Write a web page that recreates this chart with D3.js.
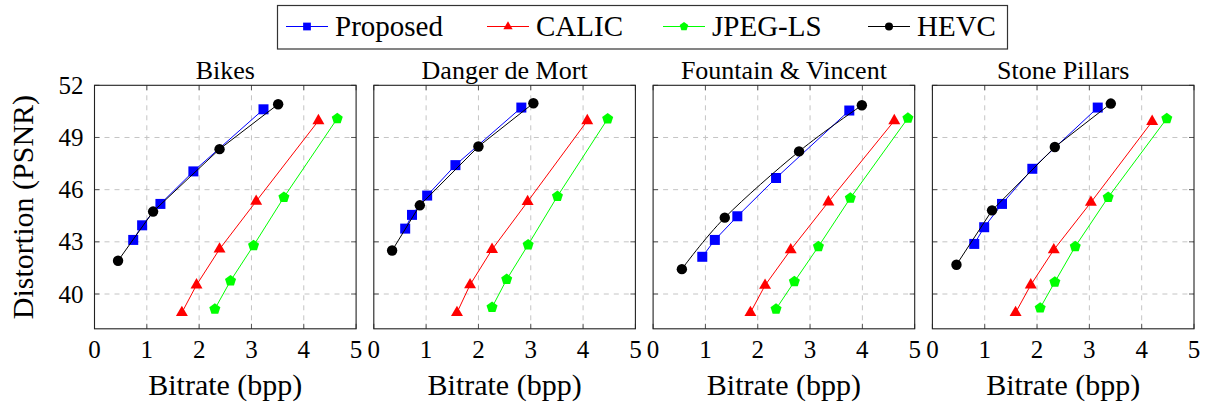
<!DOCTYPE html>
<html>
<head>
<meta charset="utf-8">
<script src="https://cdn.jsdelivr.net/npm/d3@7"></script>
<style>
  body { margin: 0; background: #fff; }
  svg, svg text { font-family: 'Liberation Serif' !important; }
</style>
</head>
<body>
<div id="app"></div>
<script>
// series order: Proposed, CALIC, JPEG-LS, HEVC
const METHODS = ["Proposed", "CALIC", "JPEG-LS", "HEVC"];
const IMAGES = ["Bikes", "Danger de Mort", "Fountain & Vincent", "Stone Pillars"];
const X_TICKS = [0, 1, 2, 3, 4, 5];
const Y_TICKS = [40, 43, 46, 49, 52];

const bikesRate = [
  [0.74, 0.91, 1.26, 1.89, 3.23],
  [1.67, 1.95, 2.39, 3.09, 4.28],
  [2.30, 2.60, 3.04, 3.62, 4.64],
  [0.45, 1.12, 2.39, 3.51]
];
const bikesPsnr = [
  [43.11, 43.95, 45.18, 47.05, 50.62],
  [38.93, 40.52, 42.58, 45.33, 49.96],
  [39.14, 40.76, 42.79, 45.56, 50.09],
  [41.91, 44.74, 48.33, 50.91]
];
const dangerRate = [
  [0.60, 0.73, 1.02, 1.56, 2.82],
  [1.59, 1.84, 2.26, 2.94, 4.08],
  [2.26, 2.54, 2.95, 3.51, 4.47],
  [0.35, 0.88, 2.00, 3.05]
];
const dangerPsnr = [
  [43.76, 44.55, 45.66, 47.41, 50.72],
  [38.93, 40.53, 42.56, 45.31, 49.96],
  [39.23, 40.84, 42.83, 45.62, 50.07],
  [42.50, 45.10, 48.48, 50.97]
];
const fountainRate = [
  [0.94, 1.18, 1.61, 2.35, 3.75],
  [1.86, 2.14, 2.63, 3.35, 4.61],
  [2.35, 2.70, 3.16, 3.77, 4.87],
  [0.55, 1.37, 2.79, 3.99]
];
const fountainPsnr = [
  [42.14, 43.11, 44.47, 46.67, 50.55],
  [38.93, 40.50, 42.54, 45.29, 49.96],
  [39.14, 40.71, 42.73, 45.52, 50.11],
  [41.43, 44.39, 48.20, 50.85]
];
const pillarsRate = [
  [0.80, 0.99, 1.33, 1.91, 3.16],
  [1.59, 1.88, 2.32, 3.03, 4.20],
  [2.06, 2.34, 2.73, 3.36, 4.48],
  [0.46, 1.14, 2.34, 3.41]
];
const pillarsPsnr = [
  [42.88, 43.84, 45.18, 47.20, 50.72],
  [38.93, 40.52, 42.54, 45.27, 49.92],
  [39.20, 40.69, 42.73, 45.56, 50.09],
  [41.68, 44.81, 48.45, 50.95]
];

const RATES = [bikesRate, dangerRate, fountainRate, pillarsRate];
const PSNRS = [bikesPsnr, dangerPsnr, fountainPsnr, pillarsPsnr];

const COLORS = ["#0000ff", "#ff0000", "#00ff00", "#000000"];

// pentagon symbol (d3 has none)
const symbolPentagon = {
  draw(ctx, size) {
    const r = Math.sqrt(size / 2.3776);
    for (let i = 0; i < 5; i++) {
      const a = -Math.PI / 2 + i * 2 * Math.PI / 5;
      const px = r * Math.cos(a), py = r * Math.sin(a);
      if (i === 0) ctx.moveTo(px, py); else ctx.lineTo(px, py);
    }
    ctx.closePath();
  }
};
const SYMBOLS = [d3.symbolSquare, d3.symbolTriangle, symbolPentagon, d3.symbolCircle];
const SIZES = [100, 62, 80, 85];

const W = 1209, H = 407;
const panel = {left: 94.5, top: 85.3, width: 261.6, height: 243.5, step: 279.3};

const svg = d3.select("#app").append("svg")
    .attr("width", W)
    .attr("height", H)
    .attr("font-family", "Liberation Serif");

const x = d3.scaleLinear().domain([0, 5]).range([0, panel.width]);
const y = d3.scaleLinear().domain([38, 52]).range([panel.height, 0]);

function label(sel, size) {
  return sel.attr("font-family", "Liberation Serif").attr("font-size", size).attr("fill", "#000");
}

IMAGES.forEach((name, p) => {
  const g = svg.append("g")
      .attr("transform", `translate(${panel.left + p * panel.step}, ${panel.top})`);

  // grid
  g.selectAll(".gx")
      .data(X_TICKS.slice(1, -1))
    .enter().append("line")
      .attr("x1", d => x(d)).attr("x2", d => x(d))
      .attr("y1", 0).attr("y2", panel.height)
      .attr("stroke", "#c4c4c4")
      .attr("stroke-dasharray", "5,5");
  g.selectAll(".gy")
      .data(Y_TICKS.slice(0, -1))
    .enter().append("line")
      .attr("x1", 0).attr("x2", panel.width)
      .attr("y1", d => y(d)).attr("y2", d => y(d))
      .attr("stroke", "#c4c4c4")
      .attr("stroke-dasharray", "5,5");

  // ticks inside the frame
  X_TICKS.forEach(t => {
    g.append("line").attr("x1", x(t)).attr("x2", x(t)).attr("y1", panel.height).attr("y2", panel.height - 5).attr("stroke", "#555");
    g.append("line").attr("x1", x(t)).attr("x2", x(t)).attr("y1", 0).attr("y2", 5).attr("stroke", "#555");
  });
  Y_TICKS.forEach(t => {
    g.append("line").attr("x1", 0).attr("x2", 5).attr("y1", y(t)).attr("y2", y(t)).attr("stroke", "#555");
    g.append("line").attr("x1", panel.width).attr("x2", panel.width - 5).attr("y1", y(t)).attr("y2", y(t)).attr("stroke", "#555");
  });

  // frame
  g.append("rect")
      .attr("width", panel.width)
      .attr("height", panel.height)
      .attr("fill", "none")
      .attr("stroke", "#222")
      .attr("stroke-width", 1.1);

  // tick labels
  g.selectAll(".xt")
      .data(X_TICKS)
    .enter().append("text")
      .attr("x", d => x(d))
      .attr("y", panel.height + 29)
      .attr("text-anchor", "middle")
      .call(label, 25)
      .text(d => d);

  if (p === 0) {
    g.selectAll(".yt")
        .data(Y_TICKS)
      .enter().append("text")
        .attr("x", -11)
        .attr("y", d => y(d))
        .attr("dy", "0.34em")
        .attr("text-anchor", "end")
        .call(label, 25)
        .text(d => d);

    g.append("text")
        .attr("transform", `translate(${23 - panel.left}, ${panel.height / 2}) rotate(-90)`)
        .attr("dy", "0.33em")
        .attr("text-anchor", "middle")
        .call(label, 30)
        .text("Distortion (PSNR)");
  }

  // x label
  g.append("text")
      .attr("x", panel.width / 2)
      .attr("y", panel.height + 66)
      .attr("text-anchor", "middle")
      .call(label, 30)
      .text("Bitrate (bpp)");

  // title
  g.append("text")
      .attr("x", panel.width / 2)
      .attr("y", -6)
      .attr("text-anchor", "middle")
      .call(label, 26)
      .text(name);

  // series
  METHODS.forEach((m, i) => {
    const pts = RATES[p][i].map((r, k) => [r, PSNRS[p][i][k]]);
    const curve = (m === "HEVC" && p === 2) ? d3.curveCatmullRom.alpha(0) : d3.curveLinear;
    const line = d3.line().x(d => x(d[0])).y(d => y(d[1])).curve(curve);

    g.append("path")
        .attr("d", line(pts))
        .attr("fill", "none")
        .attr("stroke", COLORS[i])
        .attr("stroke-width", 1);

    g.selectAll(".m" + i)
        .data(pts)
      .enter().append("path")
        .attr("transform", d => `translate(${x(d[0])}, ${y(d[1])})`)
        .attr("d", d3.symbol(SYMBOLS[i], SIZES[i]))
        .attr("fill", COLORS[i]);
  });
});

// legend
const legend = svg.append("g");
legend.append("rect")
    .attr("x", 277.5).attr("y", 5.5)
    .attr("width", 730).attr("height", 43.5)
    .attr("fill", "#fff")
    .attr("stroke", "#333")
    .attr("stroke-width", 1.2);

const LEG_X = [286, 487, 663, 868];
METHODS.forEach((m, i) => {
  const lg = legend.append("g").attr("transform", `translate(${LEG_X[i]}, 26.5)`);
  lg.append("line").attr("x1", 0).attr("x2", 42).attr("stroke", COLORS[i]).attr("stroke-width", 1);
  lg.append("path")
      .attr("transform", "translate(21, 0)")
      .attr("d", d3.symbol(SYMBOLS[i], SIZES[i] * 0.6))
      .attr("fill", COLORS[i]);
  lg.append("text")
      .attr("x", 49)
      .attr("y", 9)
      .call(label, 29)
      .text(m);
});
</script>
</body>
</html>
